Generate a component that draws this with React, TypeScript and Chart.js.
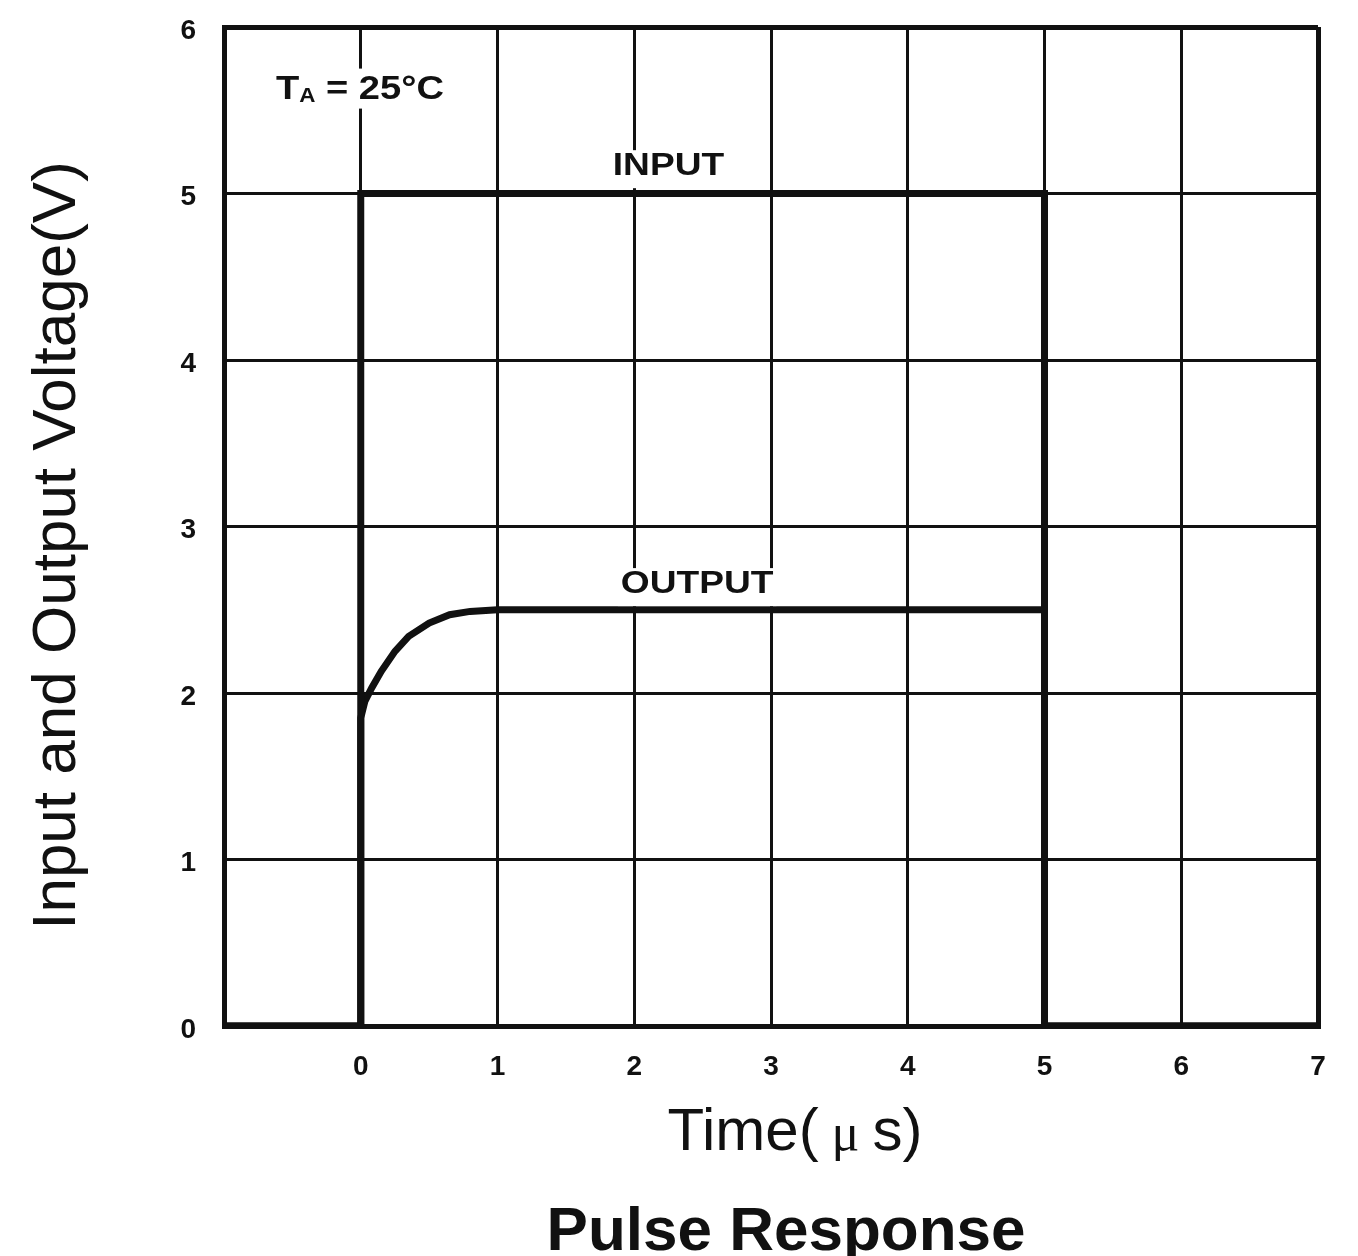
import React, { useEffect, useRef } from "react";
import { Chart, registerables } from "chart.js";

Chart.register(...registerables);

// ---- data ----
const inputX = [-1, 0, 0, 5, 5, 7];
const inputY = [0, 0, 5, 5, 0, 0];
const outputX = [-1, 0, 0, 0.03, 0.08, 0.15, 0.25, 0.35, 0.5, 0.65, 0.8, 1.0, 5, 5, 7];
const outputY = [0, 0, 1.85, 1.95, 2.03, 2.13, 2.25, 2.34, 2.42, 2.47, 2.49, 2.5, 2.5, 0, 0];

const X_MIN = -1;
const X_MAX = 7;
const Y_MIN = 0;
const Y_MAX = 6;
const hiddenXTicks = [-1];

const yTitle = "Input and Output Voltage(V)";
const xTitleParts = ["Time(", " \u03bc ", "s)"];
const chartTitle = "Pulse Response";
const labelTexts = ["INPUT", "OUTPUT"];
const labelX = [2.25, 2.46];
const labelY = [5.11, 2.6];
const tempMain = "T";
const tempSub = "A";
const tempRest = " = 25\u00b0C";
const tempX = -0.62;
const tempY = 5.57;

const SANS = "'Liberation Sans', Arial, Helvetica, sans-serif";
const SERIF = "'Liberation Serif', 'DejaVu Serif', serif";
const INK = "#111";

const toPts = (xs: number[], ys: number[]) => xs.map((x, i) => ({ x, y: ys[i] }));

const stretchText = (ctx: any, t: string, x: number, y: number, sx: number) => {
  ctx.save();
  ctx.translate(x, y);
  ctx.scale(sx, 1);
  ctx.fillText(t, 0, 0);
  ctx.restore();
};

const textPlugin = {
  id: "textPlugin",
  afterDraw(chart: any) {
    const { ctx, chartArea, scales } = chart;
    const xs = scales.x;
    const ys = scales.y;
    ctx.save();
    ctx.fillStyle = INK;

    // y title
    ctx.save();
    ctx.translate(75, (chartArea.top + chartArea.bottom) / 2 + 19);
    ctx.rotate(-Math.PI / 2);
    ctx.font = `62px ${SANS}`;
    ctx.textAlign = "center";
    ctx.textBaseline = "alphabetic";
    ctx.fillText(yTitle, 0, 0);
    ctx.restore();

    // x title in parts
    const fonts = [`60px ${SANS}`, `52px ${SERIF}`, `60px ${SANS}`];
    let total = 0;
    const widths = xTitleParts.map((t, i) => {
      ctx.font = fonts[i];
      const w = ctx.measureText(t).width;
      total += w;
      return w;
    });
    let cx = (chartArea.left + chartArea.right) / 2 + 24 - total / 2;
    ctx.textAlign = "left";
    ctx.textBaseline = "alphabetic";
    xTitleParts.forEach((t, i) => {
      ctx.font = fonts[i];
      ctx.fillText(t, cx, chartArea.bottom + 124);
      cx += widths[i];
    });

    // chart title
    ctx.font = `bold 62px ${SANS}`;
    ctx.textAlign = "center";
    ctx.fillText(chartTitle, (chartArea.left + chartArea.right) / 2 + 15, chartArea.bottom + 224);

    // series labels (slightly wide lettering, paper-white behind them)
    ctx.font = `bold 32px ${SANS}`;
    ctx.textAlign = "center";
    labelTexts.forEach((t, i) => {
      const px = xs.getPixelForValue(labelX[i]);
      const py = ys.getPixelForValue(labelY[i]);
      const w = ctx.measureText(t).width * 1.16;
      ctx.fillStyle = "#fff";
      ctx.fillRect(px - w / 2 - 3, py - 25, w + 6, 38);
      ctx.fillStyle = INK;
      stretchText(ctx, t, px, py, 1.16);
    });

    // temperature note
    ctx.textAlign = "left";
    let tx = xs.getPixelForValue(tempX);
    const ty = ys.getPixelForValue(tempY);
    const sx = 1.12;
    ctx.font = `bold 34px ${SANS}`;
    const wMain = ctx.measureText(tempMain).width * sx;
    const wRest = ctx.measureText(tempRest).width * sx;
    ctx.font = `bold 20px ${SANS}`;
    const wSub = ctx.measureText(tempSub).width * sx;
    ctx.fillStyle = "#fff";
    ctx.fillRect(tx - 2, ty - 30, wMain + wSub + wRest + 6, 40);
    ctx.fillStyle = INK;
    ctx.font = `bold 34px ${SANS}`;
    stretchText(ctx, tempMain, tx, ty, sx);
    tx += wMain;
    ctx.font = `bold 20px ${SANS}`;
    stretchText(ctx, tempSub, tx, ty + 3, sx);
    tx += wSub;
    ctx.font = `bold 34px ${SANS}`;
    stretchText(ctx, tempRest, tx, ty, sx);

    ctx.restore();
  },
};

export default function App() {
  const ref = useRef<HTMLCanvasElement | null>(null);
  useEffect(() => {
    if (!ref.current) return;
    const chart = new Chart(ref.current, {
      type: "scatter",
      data: {
        datasets: [
          {
            label: "INPUT",
            data: toPts(inputX, inputY),
            showLine: true,
            borderColor: INK,
            backgroundColor: INK,
            borderWidth: 7,
            pointRadius: 0,
            tension: 0,
          },
          {
            label: "OUTPUT",
            data: toPts(outputX, outputY),
            showLine: true,
            borderColor: INK,
            backgroundColor: INK,
            borderWidth: 7,
            pointRadius: 0,
            tension: 0,
          },
        ],
      },
      options: {
        animation: false,
        responsive: false,
        maintainAspectRatio: false,
        layout: { padding: { left: 0, right: 40, top: 27, bottom: 0 } },
        plugins: {
          legend: { display: false },
          tooltip: { enabled: false },
          title: { display: false },
        },
        scales: {
          x: {
            type: "linear",
            min: X_MIN,
            max: X_MAX,
            afterFit: (s: any) => {
              s.height = 230;
              s.paddingLeft = 0;
              s.paddingRight = 0;
            },
            ticks: {
              stepSize: 1,
              padding: 24,
              color: INK,
              font: { family: SANS, size: 28, weight: "bold" },
              maxRotation: 0,
              callback: (v: any) => (hiddenXTicks.includes(Number(v)) ? "" : String(v)),
            },
            grid: {
              color: INK,
              drawTicks: false,
              lineWidth: (c: any) => (c.tick && (c.tick.value === X_MIN || c.tick.value === X_MAX) ? 5 : 3),
            },
            border: { display: true, color: INK, width: 5 },
          },
          y: {
            type: "linear",
            min: Y_MIN,
            max: Y_MAX,
            afterFit: (s: any) => {
              s.width = 224;
              s.paddingTop = 0;
              s.paddingBottom = 0;
            },
            ticks: {
              stepSize: 1,
              padding: 28,
              labelOffset: 4,
              color: INK,
              font: { family: SANS, size: 28, weight: "bold" },
            },
            grid: {
              color: INK,
              drawTicks: false,
              lineWidth: (c: any) => (c.tick && (c.tick.value === Y_MIN || c.tick.value === Y_MAX) ? 5 : 3),
            },
            border: { display: true, color: INK, width: 5 },
          },
        },
      },
      plugins: [textPlugin],
    } as any);
    return () => chart.destroy();
  }, []);

  return (
    <div style={{ position: "absolute", left: 0, top: 0, width: 1358, height: 1256, background: "#fff" }}>
      <canvas ref={ref} width={1358} height={1256} style={{ width: 1358, height: 1256, display: "block" }} />
    </div>
  );
}
